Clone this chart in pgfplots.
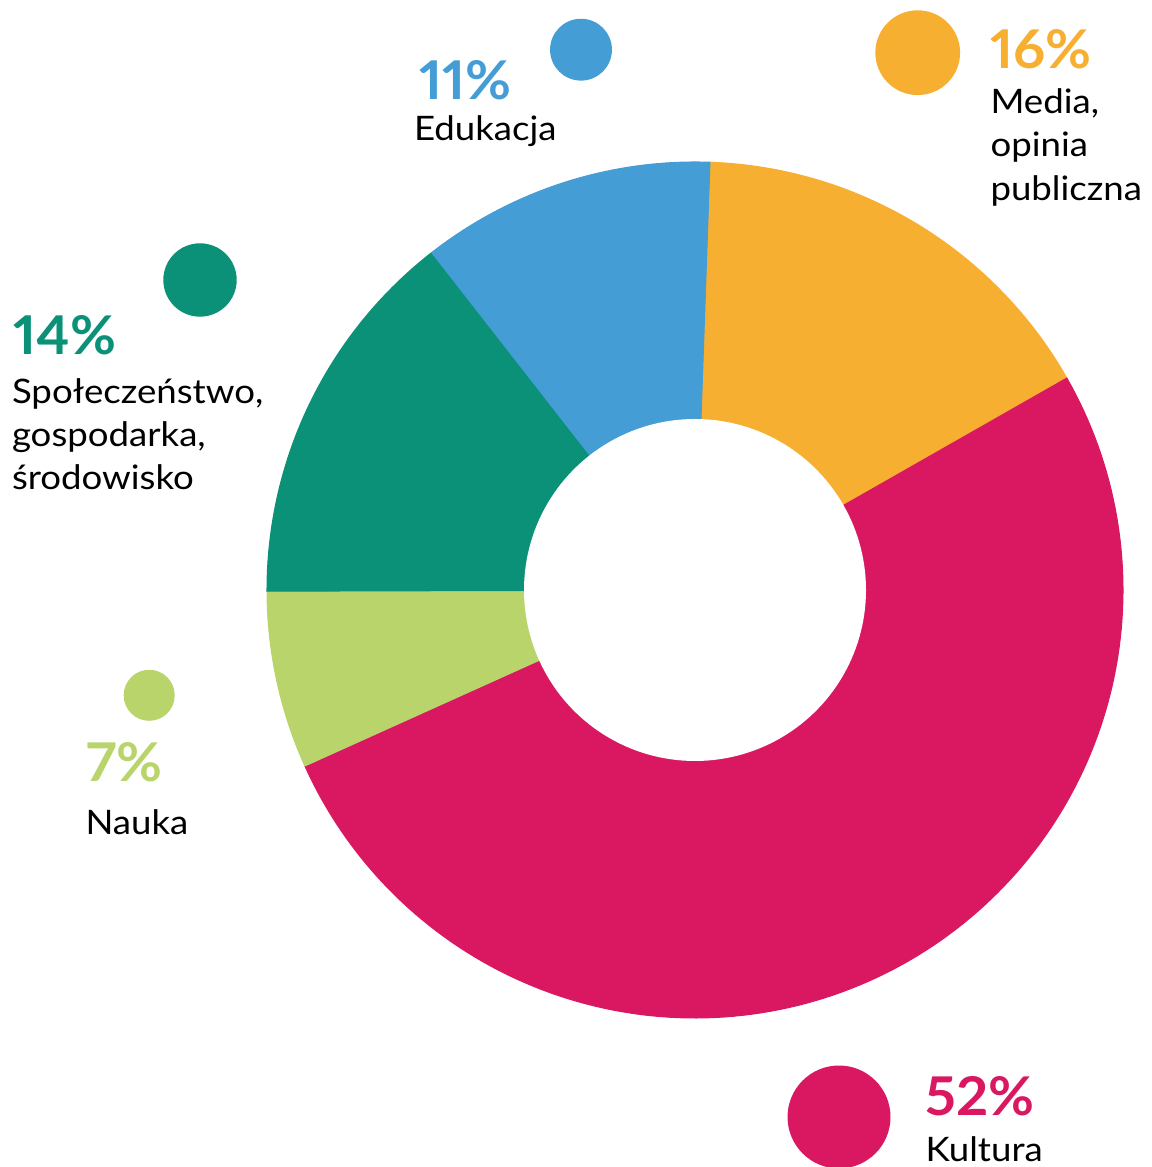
\documentclass[border=0pt]{standalone}
\usepackage{pgfplots}
\pgfplotsset{compat=1.18}
\usepackage{fontspec}
\setmainfont{Lato}
\newfontfamily\labfont[FakeStretch=1.085]{Lato}
\newfontfamily\pctfam[Numbers=Proportional, FakeStretch=1.05]{Lato}
\definecolor{cEdu}{HTML}{459DD6}
\definecolor{cMed}{HTML}{F7AF31}
\definecolor{cSpo}{HTML}{0C9179}
\definecolor{cNau}{HTML}{B8D46A}
\definecolor{cKul}{HTML}{DA1862}
% geometry (axis units = 0.1 mm = 1 px of the reference)
\def\cx{695}\def\cy{577}\def\Ro{428}\def\Ri{171}
% shares in percent
\def\pMed{16.2}\def\pKul{51.5}\def\pNau{6.7}\def\pSpo{14.5}\def\pEdu{11.1}
\pgfmathsetmacro\aA{88}
\pgfmathsetmacro\aB{\aA-3.6*\pMed}
\pgfmathsetmacro\aC{\aB-3.6*\pKul}
\pgfmathsetmacro\aD{\aC-3.6*\pNau}
\pgfmathsetmacro\aE{\aD-3.6*\pSpo}
\pgfmathsetmacro\aF{\aE-3.6*\pEdu}
\newcommand\wedgeplot[3]{\addplot[fill=#1, draw=#1, line width=0.3pt, domain=#2:#3, samples=150, variable=\t]
  ({\cx+\Ro*cos(\t)},{\cy+\Ro*sin(\t)}) -- (axis cs:\cx,\cy) -- cycle;}
\newcommand\pct[1]{{\pctfam\bfseries\fontsize{15.2}{18}\selectfont #1}}
\newcommand\lab{\labfont\fontsize{9.6}{12.5}\selectfont}
\begin{document}
\begin{tikzpicture}
\begin{axis}[
  scale only axis, width=115.1mm, height=116.7mm,
  xmin=0, xmax=1151, ymin=0, ymax=1167,
  hide axis, clip=false,
]
\wedgeplot{cMed}{\aB}{\aA}
\wedgeplot{cKul}{\aC}{\aB}
\wedgeplot{cNau}{\aD}{\aC}
\wedgeplot{cSpo}{\aE}{\aD}
\wedgeplot{cEdu}{\aF}{\aE}
\addplot[fill=white, draw=none, domain=0:360, samples=181, variable=\t]
  ({\cx+\Ri*cos(\t)},{\cy+\Ri*sin(\t)}) -- cycle;
% dots
\addplot[only marks, mark=*, mark size=8.6pt, color=cEdu] coordinates {(581,1117.3)};
\addplot[only marks, mark=*, mark size=11.86pt, color=cMed] coordinates {(917.7,1114.3)};
\addplot[only marks, mark=*, mark size=10.24pt, color=cSpo] coordinates {(200,887)};
\addplot[only marks, mark=*, mark size=7.06pt, color=cNau] coordinates {(149.2,471.7)};
\addplot[only marks, mark=*, mark size=14.45pt, color=cKul] coordinates {(839,50)};
% labels
\begin{scope}[every node/.style={anchor=base west, inner sep=0pt, outer sep=0pt}]
\node[text=cEdu] at (axis cs:419,1067.7) {\pct{11\%}};
\node at (axis cs:414,1026) {\lab Edukacja};
\node[text=cMed] at (axis cs:990,1098.7) {\pct{16\%}};
\node at (axis cs:990.5,1053.7) {\lab Media,};
\node at (axis cs:990.5,1010) {\lab opinia};
\node at (axis cs:990.5,966) {\lab publiczna};
\node[text=cSpo] at (axis cs:13.5,812) {\pct{14\%}};
\node at (axis cs:12,763.7) {\lab Społeczeństwo,};
\node at (axis cs:12,720.3) {\lab gospodarka,};
\node at (axis cs:12,677) {\lab środowisko};
\node[text=cNau] at (axis cs:86,385.3) {\pct{7\%}};
\node at (axis cs:85.5,332) {\lab Nauka};
\node[text=cKul] at (axis cs:925.5,52) {\pct{52\%}};
\node at (axis cs:925.5,6) {\lab Kultura};
\end{scope}
\end{axis}
\pgfresetboundingbox
\path (current axis.south west) rectangle (current axis.north east);
\end{tikzpicture}
\end{document}
